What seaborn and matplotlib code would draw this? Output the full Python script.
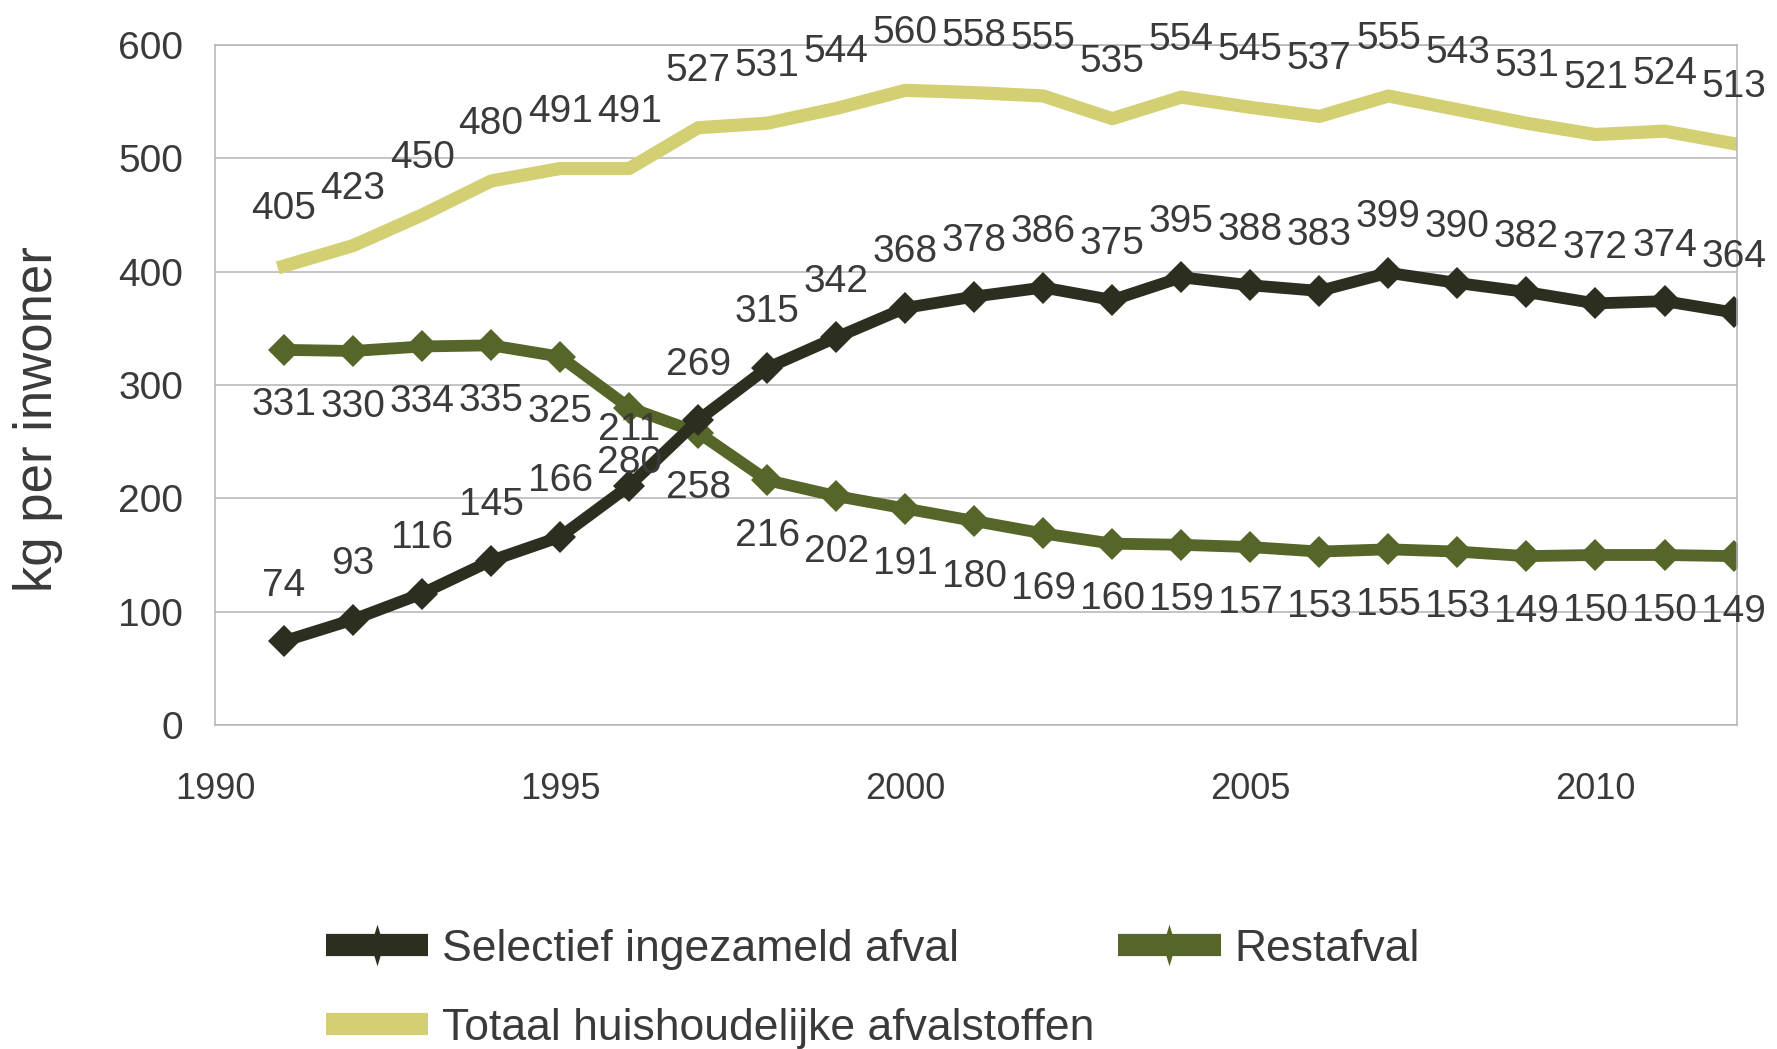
import matplotlib
matplotlib.use("Agg")
import matplotlib.pyplot as plt
import seaborn as sns
import pandas as pd

years = list(range(1991, 2013))
selectief = [74, 93, 116, 145, 166, 211, 269, 315, 342, 368, 378, 386, 375, 395,
             388, 383, 399, 390, 382, 372, 374, 364]
restafval = [331, 330, 334, 335, 325, 280, 258, 216, 202, 191, 180, 169, 160, 159,
             157, 153, 155, 153, 149, 150, 150, 149]
totaal = [405, 423, 450, 480, 491, 491, 527, 531, 544, 560, 558, 555, 535, 554,
          545, 537, 555, 543, 531, 521, 524, 513]

series_names = ["Selectief ingezameld afval", "Restafval", "Totaal huishoudelijke afvalstoffen"]
y_ticks = [0, 100, 200, 300, 400, 500, 600]
x_ticks = [1990, 1995, 2000, 2005, 2010]
y_label = "kg per inwoner"

sns.set_style("white")
plt.rcParams["font.family"] = ["Liberation Sans", "DejaVu Sans"]

text_col = "#3a3a3a"
grid_col = "#b4b4b4"
c_sel = "#2c2f20"
c_rest = "#556628"
c_tot = "#d3d073"

W, H = 1777, 1049
fig = plt.figure(figsize=(W / 100, H / 100), dpi=100)
ax = fig.add_axes([215 / W, 1 - 725 / H, 1522 / W, 680 / H])

df = pd.DataFrame({"jaar": years, "sel": selectief, "rest": restafval, "tot": totaal})

sns.lineplot(data=df, x="jaar", y="tot", ax=ax, color=c_tot, linewidth=9.5,
             solid_capstyle="projecting", label=series_names[2])
sns.lineplot(data=df, x="jaar", y="rest", ax=ax, color=c_rest, linewidth=8.5,
             marker="D", markersize=16.5, markeredgewidth=0, label=series_names[1])
sns.lineplot(data=df, x="jaar", y="sel", ax=ax, color=c_sel, linewidth=8.5,
             marker="D", markersize=16.5, markeredgewidth=0, label=series_names[0])

if ax.get_legend() is not None:
    ax.get_legend().remove()

lab_fs = 28
for x, v in zip(years, totaal):
    ax.annotate(str(v), (x, v), xytext=(0, 41), textcoords="offset points",
                ha="center", va="center", fontsize=lab_fs, color=text_col)
for x, v in zip(years, selectief):
    ax.annotate(str(v), (x, v), xytext=(0, 40), textcoords="offset points",
                ha="center", va="center", fontsize=lab_fs, color=text_col)
for x, v in zip(years, restafval):
    ax.annotate(str(v), (x, v), xytext=(0, -40), textcoords="offset points",
                ha="center", va="center", fontsize=lab_fs, color=text_col)

ax.set_xlim(1990, 2012.05)
ax.set_ylim(0, 600)
ax.set_xticks(x_ticks)
ax.set_yticks(y_ticks)
ax.set_xticklabels([str(t) for t in x_ticks])
ax.set_yticklabels([str(t) for t in y_ticks])
ax.grid(axis="y", color=grid_col, linewidth=1.1)
ax.grid(axis="x", visible=False)
for s in ax.spines.values():
    s.set_color(grid_col)
    s.set_linewidth(1.1)
ax.tick_params(axis="both", direction="out", length=12, width=1.1, color=grid_col,
               labelcolor=text_col)
ax.tick_params(axis="y", pad=11, labelsize=28)
ax.tick_params(axis="x", pad=22, labelsize=26)
ax.set_xlabel("")
ax.set_ylabel(y_label, fontsize=38, color=text_col)
ax.yaxis.set_label_coords(-0.100, 0.45)

handles, labels = ax.get_legend_handles_labels()
hmap = dict(zip(labels, handles))
order = [series_names[0], series_names[2], series_names[1]]
leg = fig.legend([hmap[n] for n in order], order, ncol=2, loc="upper left",
                 bbox_to_anchor=(326 / W, 1 - 929 / H), frameon=False,
                 fontsize=32, handlelength=2.3, handletextpad=0.3,
                 columnspacing=0.55, labelspacing=0.85, borderpad=0,
                 borderaxespad=0, labelcolor=text_col)
thin_diamond = [(-0.3, 0), (0, 1), (0.3, 0), (0, -1), (-0.3, 0)]
for h, n in zip(leg.legend_handles, order):
    h.set_linewidth(16)
    h.set_solid_capstyle("butt")
    if n != series_names[2]:
        h.set_marker(thin_diamond)
        h.set_markersize(30)

fig.savefig("out.png", dpi=100)
